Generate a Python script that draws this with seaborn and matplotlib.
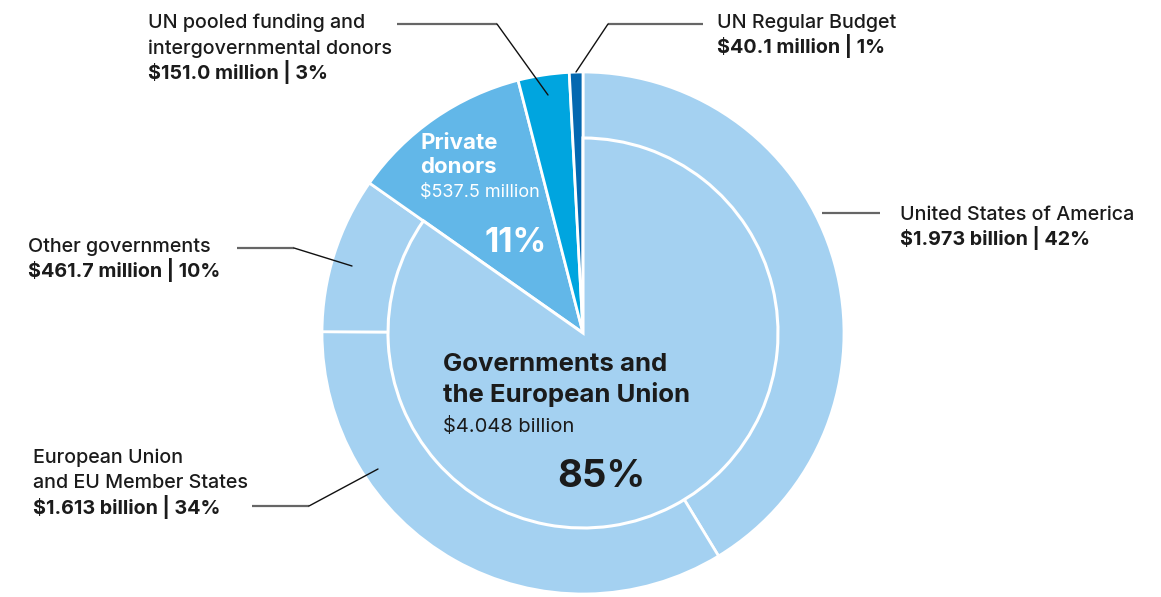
import matplotlib
matplotlib.use("Agg")
import matplotlib.pyplot as plt
import seaborn as sns

# ---- data ----
segments = ["United States of America", "European Union\nand EU Member States", "Other governments",
            "Private donors", "UN pooled funding and\nintergovernmental donors", "UN Regular Budget"]
values_musd = [1973.0, 1613.0, 461.7, 537.5, 151.0, 40.1]
value_labels = ["$1.973 billion | 42%", "$1.613 billion | 34%", "$461.7 million | 10%",
                "$537.5 million", "$151.0 million | 3%", "$40.1 million | 1%"]
group_label = "Governments and\nthe European Union"
group_value = "$4.048 billion"
group_pct = "85%"
private_pct = "11%"

light = "#a4d1f1"
colors = [light, light, light, "#62b7e8", "#00a5df", "#0468b0"]

sns.set_theme(style="white")
plt.rcParams["font.family"] = ["Inter", "DejaVu Sans"]

W, H = 1161, 597
fig = plt.figure(figsize=(W / 100, H / 100), dpi=100)
ax = fig.add_axes([0, 0, 1, 1])

cx, cy = 583, H - 333
R_out, R_in = 261, 195

ax.pie(values_musd, radius=R_out, center=(cx, cy), startangle=90, counterclock=False,
       colors=colors, wedgeprops=dict(edgecolor="white", linewidth=2))
gov = sum(values_musd[:3])
rest = sum(values_musd[3:])
inner, _ = ax.pie([gov, rest], radius=R_in, center=(cx, cy), startangle=90, counterclock=False,
                  colors=[light, "none"], wedgeprops=dict(edgecolor="white", linewidth=2.2))
inner[1].set_edgecolor("none")

ax.set_xlim(0, W)
ax.set_ylim(0, H)
ax.set_aspect("equal")
ax.axis("off")

TXT = "#1b1b1b"


def Y(y):
    return H - y


def label(x, y_base, lines_regular, line_bold, size=14.2, step=25.5):
    yy = y_base
    for ln in lines_regular:
        ax.text(x, Y(yy), ln, fontsize=size, color=TXT, va="baseline", ha="left", fontweight="medium")
        yy += step
    ax.text(x, Y(yy), line_bold, fontsize=size, color=TXT, va="baseline", ha="left", fontweight="bold")


def leader(pts_h, pts_d=None):
    (x0, y0), (x1, y1) = pts_h
    ax.plot([x0, x1], [Y(y0), Y(y1)], color="#666666", lw=1.6, solid_capstyle="butt")
    if pts_d:
        (x2, y2) = pts_d
        ax.plot([x1, x2], [Y(y1), Y(y2)], color="#111111", lw=1.0)


# outer labels
label(900, 220, segments[0].split("\n"), value_labels[0])
label(33, 463, segments[1].split("\n"), value_labels[1])
label(28, 252, segments[2].split("\n"), value_labels[2])
label(148, 28, segments[4].split("\n"), value_labels[4])
label(717, 28, segments[5].split("\n"), value_labels[5])

leader([(822, 213), (880, 213)])
leader([(252, 506), (309, 506)], (378, 469))
leader([(237, 248), (294, 248)], (352, 266))
leader([(397, 24), (497, 24)], (548, 95))
leader([(703, 24), (608, 24)], (576, 72))

# private donors inner text
ax.text(420, Y(149), "Private", fontsize=16, color="white", fontweight="bold", va="baseline")
ax.text(420, Y(173), "donors", fontsize=16, color="white", fontweight="bold", va="baseline")
ax.text(420, Y(197), value_labels[3], fontsize=13, color="white", va="baseline")
ax.text(485, Y(252), private_pct, fontsize=24, color="white", fontweight="bold", va="baseline")

# governments inner text
g1, g2 = group_label.split("\n")
ax.text(443, Y(371), g1, fontsize=18.5, color=TXT, fontweight="bold", va="baseline")
ax.text(443, Y(402), g2, fontsize=18.5, color=TXT, fontweight="bold", va="baseline")
ax.text(443, Y(432), group_value, fontsize=14.5, color=TXT, va="baseline")
ax.text(557, Y(487), group_pct, fontsize=27.5, color=TXT, fontweight="bold", va="baseline")

fig.savefig("out.png", dpi=100)
